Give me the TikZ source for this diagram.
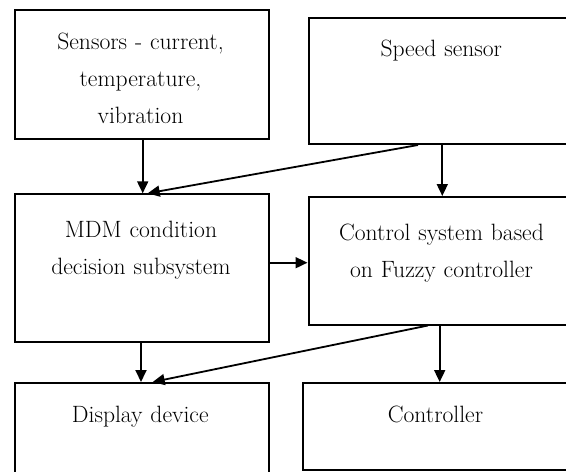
\documentclass[tikz,border=0pt]{standalone}
\usetikzlibrary{arrows.meta}
\tikzset{
  box/.style={draw, line width=2pt, anchor=north west, inner sep=0pt},
  boxtext/.style={anchor=base, text width=270pt, align=center, inner sep=0pt,
    font=\fontsize{23.6}{37.3}\selectfont},
  flow/.style={line width=1.8pt, -{Triangle[length=12pt,width=11pt]}},
}
\begin{document}
\begin{tikzpicture}[x=1pt,y=-1pt]
\useasboundingbox (0,0) rectangle (566,472);
\fill[white] (0,0) rectangle (566,472);
\begin{scope}
\clip (0,0) rectangle (566,472);
% boxes (the right-hand ones run past the right edge)
\node[box, minimum width=254pt, minimum height=129pt]   (sens)  at (13.5,9)     {};
\node[box, minimum width=300pt, minimum height=126.3pt] (speed) at (307.5,16.7) {};
\node[box, minimum width=254pt, minimum height=147.7pt] (mdm)   at (13.5,193.3) {};
\node[box, minimum width=300pt, minimum height=127.5pt] (ctrl)  at (307.5,196)  {};
\node[box, minimum width=254pt, minimum height=130pt]   (disp)  at (13.5,382)   {};
\node[box, minimum width=300pt, minimum height=87pt]    (cont)  at (301.5,382)  {};
% box texts
\node[boxtext] (sens-t)  at (140.5,49.3)  {Sensors - current,\\ temperature,\\ vibration};
\node[boxtext] (speed-t) at (441.3,56)    {Speed sensor};
\node[boxtext] (mdm-t)   at (141,237.3)   {MDM condition\\ decision subsystem};
\node[boxtext] (ctrl-t)  at (441.5,240.5) {Control system based\\ on Fuzzy controller};
\node[boxtext] (disp-t)  at (140.3,422.7) {Display device};
\node[boxtext] (cont-t)  at (435.5,422.7) {Controller};
% connectors
\draw[flow] ([xshift=1.2pt]sens.south) -- ([xshift=1.2pt]sens.south |- mdm.north);
\draw[flow] ([xshift=110.5pt]speed.south west) -- ([xshift=6.2pt]mdm.north);
\draw[flow] ([xshift=134.8pt]speed.south west) -- ([xshift=134.8pt]ctrl.north west);
\draw[flow] ([yshift=-69.4pt]mdm.north east) -- ([yshift=-69.4pt]mdm.north east -| ctrl.west);
\draw[flow] ([xshift=-0.5pt]mdm.south) -- ([xshift=-0.5pt]disp.north);
\draw[flow] ([xshift=120.5pt]ctrl.south west) -- ([xshift=11.2pt]disp.north);
\draw[flow] ([xshift=132.2pt]ctrl.south west) -- ([xshift=132.2pt]ctrl.south west |- cont.north);
\end{scope}
\end{tikzpicture}
\end{document}
